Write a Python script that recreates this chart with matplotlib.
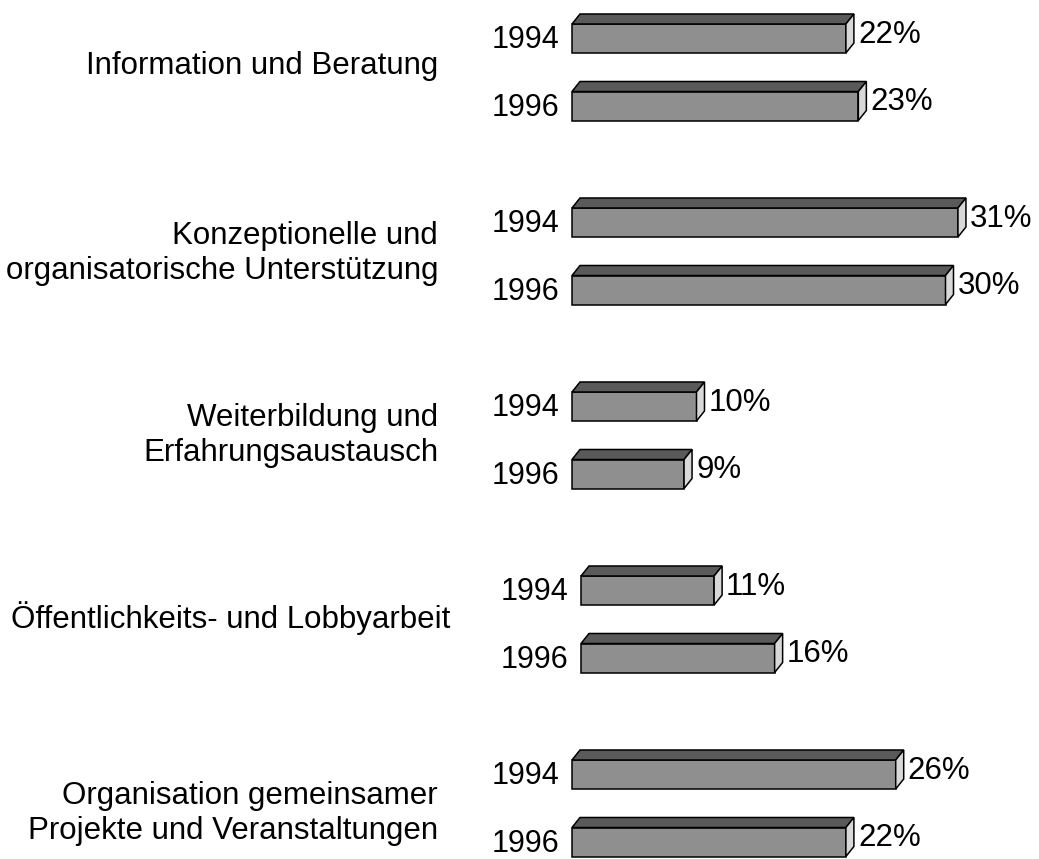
import matplotlib
matplotlib.use("Agg")
import matplotlib.pyplot as plt
from matplotlib.patches import Polygon

# ---- data ----
categories = [
    ["Information und Beratung"],
    ["Konzeptionelle und", "organisatorische Unterstützung"],
    ["Weiterbildung und", "Erfahrungsaustausch"],
    ["Öffentlichkeits- und Lobbyarbeit"],
    ["Organisation gemeinsamer", "Projekte und Veranstaltungen"],
]
years = ["1994", "1996"]
values_1994 = [22, 31, 10, 11, 26]
values_1996 = [23, 30, 9, 16, 22]

# ---- layout (pixels) ----
W, H = 1039, 859
X0 = 572.0          # pixel position of 0 %
S = 12.45           # pixels per percent
Y0 = 24.0           # front-top of first bar
GAP = 184.0         # group spacing
STEP = 67.5         # spacing between the two bars of a group
FH = 29.0           # front face height
DX, DY = 8.0, 10.0  # 3D depth
group_shift = [0, 0, 0, 9, 0]
group_scale = [1, 1, 1, 0.972, 1]
label_dy = [-8, -4.5, -7, -6, 3]
label_dx = [-134, -134, -134, -131, -134]
LINE = 35.0

FRONT = "#8f8f8f"
TOP = "#5a5a5a"
SIDE = "#d8d8d8"
LW = 1.1
FONT = "Liberation Sans"
FS_CAT = 22.5
FS_YEAR = 22
FS_PCT = 22.5

fig = plt.figure(figsize=(W / 100, H / 100), dpi=100)
ax = fig.add_axes([0, 0, 1, 1])
ax.set_xlim(-X0 / S, (W - X0) / S)
ax.set_ylim(H, 0)
ax.axis("off")

ddx = DX / S

for g, cat in enumerate(categories):
    shift = group_shift[g] / S
    vals = [values_1994[g], values_1996[g]]
    for j, (yr, v) in enumerate(zip(years, vals)):
        yt = Y0 + g * GAP + j * STEP
        yb = yt + FH
        x0 = shift
        x1 = shift + v * group_scale[g]
        # front
        ax.add_patch(Polygon([(x0, yt), (x1, yt), (x1, yb), (x0, yb)], closed=True,
                             facecolor=FRONT, edgecolor="black", lw=LW, joinstyle="miter"))
        # top
        ax.add_patch(Polygon([(x0, yt), (x1, yt), (x1 + ddx, yt - DY), (x0 + ddx, yt - DY)],
                             closed=True, facecolor=TOP, edgecolor="black", lw=LW, joinstyle="miter"))
        # side
        ax.add_patch(Polygon([(x1, yt), (x1, yb), (x1 + ddx, yb - DY), (x1 + ddx, yt - DY)],
                             closed=True, facecolor=SIDE, edgecolor="black", lw=LW, joinstyle="miter"))
        # year label
        ax.text(x0 - 13 / S, yb - 5, yr, ha="right", va="baseline",
                fontsize=FS_YEAR, family=FONT, color="black")
        # value label
        ax.text(x1 + ddx + 4 / S, yb - 10, f"{v}%", ha="left", va="baseline",
                fontsize=FS_PCT, family=FONT, color="black")
    # category label
    mid = (Y0 + g * GAP + FH + Y0 + g * GAP + STEP) / 2
    c = mid + label_dy[g]
    n = len(cat)
    for i, line in enumerate(cat):
        yc = c + (i - (n - 1) / 2) * LINE
        ax.text(shift + label_dx[g] / S, yc + 10, line, ha="right", va="baseline",
                fontsize=FS_CAT, family=FONT, color="black")

fig.savefig("out.png", dpi=100, facecolor="white")
